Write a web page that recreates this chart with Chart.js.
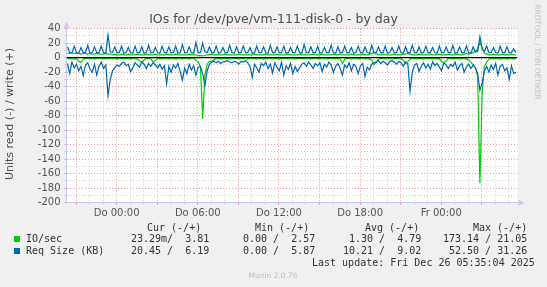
<!DOCTYPE html>
<html>
<head>
<meta charset="utf-8">
<script src="https://cdn.jsdelivr.net/npm/chart.js@4/dist/chart.umd.min.js"></script>
<style>
  html, body { margin: 0; padding: 0; background: #f0f0f0; }
  #wrap { position: relative; width: 547px; height: 287px; overflow: hidden; font-family: "DejaVu Sans", sans-serif; }
  #wrap canvas { position: absolute; left: 0; top: 0; }
  .t { position: absolute; white-space: pre; line-height: 12px; }
  .mono { font-family: "DejaVu Sans Mono", monospace; font-size: 10px; color: #333; }
  .sw { position: absolute; width: 6px; height: 6px; }
</style>
</head>
<body>
<div id="wrap">
  <canvas id="ioChart" width="547" height="287"></canvas>

  <div class="t" style="left:0;width:547px;top:12px;line-height:14px;text-align:center;font-size:12.5px;color:#4a4a4a;">IOs for /dev/pve/vm-111-disk-0 - by day</div>
  <div class="t" style="left:-90px;top:108px;width:200px;text-align:center;font-size:11px;color:#4a4a4a;transform:rotate(-90deg);">Units read (-) / write (+)</div>
  <div class="t" style="left:487px;top:47px;width:100px;line-height:10px;text-align:center;font-size:7.4px;color:#c0c0c0;transform:rotate(90deg);">RRDTOOL / TOBI OETIKER</div>

  <div class="t mono" style="left:147px;top:222px;">Cur (-/+)</div>
  <div class="t mono" style="left:255px;top:222px;">Min (-/+)</div>
  <div class="t mono" style="left:365px;top:222px;">Avg (-/+)</div>
  <div class="t mono" style="left:473px;top:222px;">Max (-/+)</div>

  <div class="sw" style="left:14px;top:236px;background:#00cc00;"></div>
  <div class="t mono" style="left:26px;top:233px;">IO/sec</div>
  <div class="t mono" style="left:131px;top:233px;">23.29m/  3.81</div>
  <div class="t mono" style="left:243px;top:233px;">0.00 /  2.57</div>
  <div class="t mono" style="left:349px;top:233px;">1.30 /  4.79</div>
  <div class="t mono" style="left:443px;top:233px;">173.14 / 21.05</div>

  <div class="sw" style="left:14px;top:248px;background:#0066b3;"></div>
  <div class="t mono" style="left:26px;top:245px;">Req Size (KB)</div>
  <div class="t mono" style="left:131px;top:245px;">20.45 /  6.19</div>
  <div class="t mono" style="left:243px;top:245px;">0.00 /  5.87</div>
  <div class="t mono" style="left:343px;top:245px;">10.21 /  9.02</div>
  <div class="t mono" style="left:449px;top:245px;">52.50 / 31.26</div>

  <div class="t mono" style="left:312px;top:257px;">Last update: Fri Dec 26 05:35:04 2025</div>
  <div class="t" style="left:223px;top:270px;width:100px;text-align:center;font-size:7.5px;color:#c0c0c0;">Munin 2.0.76</div>
</div>

<script>
// Zeitachse: Stunden relativ zu Do 00:00, ein Wert alle 10 Minuten
const T0 = -3.64;
const STEP = 1 / 6;
const X_MIN = -3.71;
const X_MAX = 29.64;

const xTickHours  = [0, 6, 12, 18, 24];
const xTickLabels = ["Do 00:00", "Do 06:00", "Do 12:00", "Do 18:00", "Fr 00:00"];

const Y_MIN = -200;
const Y_MAX = 40;

// IO/sec write (+)
const ioWrite = [
    6, 6, 7, 6, 6, 6, 5, 6, 6, 5,   6, 5, 5, 6, 5, 5, 5, 6, 5, 5,   4, 5, 4, 4, 5, 4, 4, 5, 4, 4,
    4, 5, 4, 4, 4, 5, 4, 4, 4, 5,   4, 4, 4, 4, 5, 4, 4, 4, 5, 4,   4, 4, 4, 4, 5, 4, 4, 4, 3, 3,
    2.6, 3, 4, 4, 5, 4, 4, 4, 4, 4, 5, 4, 4, 4, 4, 4, 5, 4, 4, 4,   4, 4, 4, 5, 4, 4, 4, 4, 5, 4,
    4, 4, 4, 5, 4, 4, 4, 4, 5, 4,   4, 4, 4, 5, 4, 4, 4, 4, 4, 5,   4, 4, 4, 5, 4, 4, 4, 4, 5, 4,
    4, 5, 4, 4, 4, 4, 5, 4, 4, 4,   4, 5, 4, 4, 5, 6, 8, 5, 4, 4,   5, 4, 4, 4, 4, 5, 4, 4, 4, 5,
    5, 6, 5, 4, 4, 4, 5, 4, 4, 4,   4, 5, 4, 4, 4, 5, 4, 4, 4, 5,   4, 4, 4, 5, 4, 4, 5, 6, 5, 6,
    7, 9, 12, 21.05, 14, 6, 5, 4, 4, 5,   4, 4, 4, 5, 4, 4, 4, 5, 4, 4
];

// IO/sec read (-)
const ioRead = [
    1, 1.5, 1, 2, 1, 5, 7, 2, 1, 1,   1.5, 1, 2, 1, 1, 1, 2, 1, 1.5, 1,   1, 1, 2, 1, 1, 1.5, 1, 1, 2, 1,
    1, 2, 4, 7, 3, 1, 1, 1.5, 6, 4,   1, 1, 2, 1, 1, 1.5, 1, 1, 2, 1,   1, 1.5, 1, 1, 2, 1, 1, 3, 6, 12,
    84, 24, 9, 5, 5, 3, 1, 1, 1.5, 1,   1, 1, 2, 1, 1, 1, 1.5, 1, 1, 1,   2, 1, 1, 1, 1.5, 1, 1, 2, 1, 1,
    1, 1.5, 1, 1, 2, 1, 1, 1, 1.5, 1,   1, 2, 1, 1, 1, 1.5, 1, 1, 2, 1,   1, 1, 1.5, 1, 1, 2, 1, 1, 1, 1.5,
    1, 2, 8, 2, 1, 1, 1.5, 1, 1, 2,   1, 1, 1.5, 1, 2, 3, 10, 6, 2, 1,   1, 1.5, 1, 1, 2, 1, 1, 1, 1.5, 3,
    8, 5, 2, 1, 1, 1.5, 1, 1, 2, 1,   1, 1, 1.5, 1, 2, 1, 5, 8, 4, 1,   1, 1.5, 1, 1, 2, 1, 1, 2, 3, 6,
    10, 14, 25, 173.14, 49, 12, 6, 2, 1, 1.5,   1, 1, 2, 1, 1, 1.5, 1, 1, 2, 1
];

// Req Size (KB) write (+)
const reqWrite = [
    15, 7, 7, 16, 7, 6, 14, 7, 7, 17,   6, 7, 15, 7, 7, 16, 7, 6, 31, 8,   7, 15, 7, 7, 16, 6, 7, 14, 7, 6,
    16, 7, 7, 15, 6, 7, 17, 7, 7, 14,   7, 6, 16, 7, 7, 15, 7, 7, 16, 6,   7, 18, 7, 7, 15, 7, 6, 21, 7, 7,
    20, 8, 7, 15, 7, 7, 16, 6, 7, 14,   7, 7, 17, 7, 6, 15, 7, 7, 16, 7,   7, 14, 6, 7, 16, 7, 7, 15, 7, 6,
    17, 7, 7, 15, 7, 7, 16, 6, 7, 14,   7, 7, 16, 7, 6, 18, 7, 7, 15, 7,   7, 16, 6, 7, 14, 7, 7, 17, 7, 6,
    15, 7, 7, 16, 7, 7, 14, 6, 7, 16,   7, 7, 15, 7, 6, 17, 7, 7, 15, 7,   7, 16, 6, 7, 14, 7, 7, 16, 7, 6,
    15, 7, 7, 17, 7, 7, 15, 6, 7, 16,   7, 7, 14, 7, 6, 16, 7, 7, 15, 7,   7, 17, 6, 7, 15, 7, 7, 16, 7, 6,
    15, 8, 9, 29, 12, 8, 16, 7, 7, 14,   7, 6, 16, 7, 7, 15, 7, 7, 12, 7
];

// Req Size (KB) read (-)
const reqRead = [
    8, 22, 6, 14, 9, 18, 12, 25, 10, 7,   16, 20, 9, 24, 12, 6, 15, 10, 52.5, 30,   18, 14, 10, 12, 8, 6, 11, 9, 19, 14,
    7, 10, 13, 6, 9, 15, 8, 12, 7, 10,   14, 9, 16, 11, 36, 12, 20, 10, 14, 8,   19, 31, 14, 22, 9, 17, 11, 24, 13, 12,
    22, 38, 18, 9, 6, 5, 7, 5, 8, 6,   5, 4, 6, 7, 5, 6, 9, 5, 6, 4,   7, 12, 27, 9, 14, 20, 8, 11, 6, 15,
    9, 21, 7, 13, 18, 6, 24, 11, 16, 8,   22, 12, 19, 14, 9, 7, 12, 6, 10, 15,   8, 11, 7, 19, 9, 13, 6, 10, 20, 12,
    8, 15, 24, 10, 14, 7, 18, 9, 12, 22,   11, 8, 26, 13, 17, 9, 7, 6, 4, 8,   5, 7, 10, 5, 4, 6, 9, 5, 7, 12,
    6, 8, 46, 20, 10, 8, 19, 12, 7, 14,   9, 16, 6, 11, 8, 13, 18, 7, 10, 15,   9, 12, 6, 17, 11, 8, 20, 13, 9, 15,
    10, 14, 22, 45, 35, 18, 12, 20, 10, 16,   8, 24, 12, 9, 18, 14, 30, 11, 22, 20
];

const GREEN = "#00cc00";
const BLUE  = "#0066b3";
const MAJOR = "rgba(225, 120, 120, 0.75)";
const MINOR = "rgba(190, 190, 190, 0.75)";
const AXIS  = "#c8c8f0";

const toPoints = (vals, sign) => vals.map((v, i) => ({ x: T0 + i * STEP, y: sign * v }));

const plotBg = {
    id: "plotBg",
    beforeDraw(chart) {
        const { ctx, chartArea: a } = chart;
        ctx.save();
        ctx.fillStyle = "#fff";
        ctx.fillRect(a.left, a.top, a.right - a.left, a.bottom - a.top);
        ctx.restore();
    },
    afterDraw(chart) {
        // kleine Pfeile an den Achsenenden
        const { ctx, chartArea: a } = chart;
        ctx.save();
        ctx.fillStyle = AXIS;
        ctx.beginPath();
        ctx.moveTo(a.left - 3, a.top - 1);
        ctx.lineTo(a.left + 3, a.top - 1);
        ctx.lineTo(a.left, a.top - 7);
        ctx.fill();
        ctx.beginPath();
        ctx.moveTo(a.right + 1, a.bottom - 3);
        ctx.lineTo(a.right + 1, a.bottom + 3);
        ctx.lineTo(a.right + 7, a.bottom);
        ctx.fill();
        ctx.restore();
    }
};

Chart.defaults.font.family = "DejaVu Sans";
Chart.defaults.font.size = 10;

const line = (data, color) => ({ data, borderColor: color, backgroundColor: "transparent", borderWidth: 1.2, pointRadius: 0, tension: 0 });

new Chart(document.getElementById("ioChart").getContext("2d"), {
    type: "line",
    data: {
        datasets: [
            line([{ x: X_MIN, y: 0 }, { x: X_MAX, y: 0 }], "#000"),
            line(toPoints(reqWrite, 1), BLUE),
            line(toPoints(reqRead, -1), BLUE),
            line(toPoints(ioWrite, 1), GREEN),
            line(toPoints(ioRead, -1), GREEN)
        ]
    },
    options: {
        responsive: false,
        animation: false,
        layout: { padding: { left: 0, right: 29.5, top: 28.7, bottom: 0 } },
        plugins: { legend: { display: false }, tooltip: { enabled: false } },
        scales: {
            x: {
                type: "linear",
                min: X_MIN,
                max: X_MAX,
                afterFit: s => { s.height = 84.3; },
                afterBuildTicks: s => {
                    const t = [];
                    for (let h = Math.ceil(X_MIN); h <= Math.floor(X_MAX); h++) t.push({ value: h });
                    s.ticks = t;
                },
                ticks: {
                    autoSkip: false,
                    maxRotation: 0,
                    padding: 3,
                    color: "#555",
                    callback: v => { const k = xTickHours.indexOf(v); return k >= 0 ? xTickLabels[k] : ""; }
                },
                grid: {
                    color: c => (c.tick && c.tick.value % 3 === 0) ? MAJOR : MINOR,
                    tickLength: 2
                },
                border: { color: AXIS, dash: [1, 2] }
            },
            y: {
                min: Y_MIN,
                max: Y_MAX,
                afterFit: s => { s.width = 66.5; },
                afterBuildTicks: s => {
                    const t = [];
                    for (let v = Y_MIN; v <= Y_MAX; v += 10) t.push({ value: v });
                    s.ticks = t;
                },
                ticks: {
                    autoSkip: false,
                    padding: 4,
                    color: "#555",
                    callback: v => v % 20 === 0 ? String(v) : ""
                },
                grid: {
                    color: c => (c.tick && c.tick.value % 20 === 0) ? MAJOR : MINOR,
                    tickLength: 2
                },
                border: { color: AXIS, dash: [1, 2] }
            }
        }
    },
    plugins: [plotBg]
});
</script>
</body>
</html>
